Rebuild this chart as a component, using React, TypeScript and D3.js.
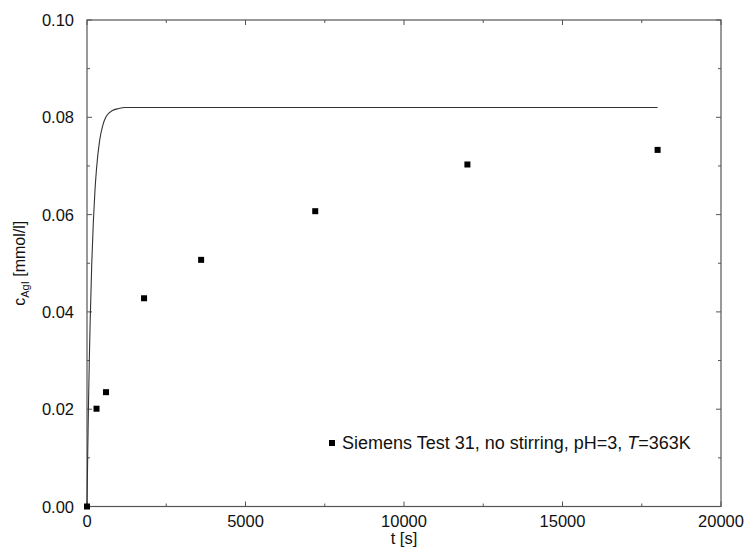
import React from "react";
import * as d3 from "d3";

// measured points (Siemens Test 31)
const tData = [0, 300, 600, 1800, 3600, 7200, 12000, 18000];
const cData = [0, 0.0201, 0.0235, 0.0428, 0.0507, 0.0607, 0.0703, 0.0733];

// model curve
const tCurve = [0, 25, 50, 75, 100, 150, 200, 250, 300, 400, 500, 600, 800, 1000, 1200, 1500, 2000, 18000];
const cCurve = [0, 0.0119, 0.022, 0.0307, 0.0381, 0.0499, 0.0585, 0.0648, 0.0694, 0.0753, 0.0784, 0.0801, 0.0814, 0.0818, 0.082, 0.082, 0.082, 0.082];

const xTicks = [0, 5000, 10000, 15000, 20000];
const xMinor = [2500, 7500, 12500, 17500];
const yTicks = [0, 0.02, 0.04, 0.06, 0.08, 0.1];
const yMinor = [0.01, 0.03, 0.05, 0.07, 0.09];

const W = 749, H = 554;
const left = 87, right = 721, top = 20, bottom = 506.5;
const font = "'Liberation Sans', Arial, Helvetica, sans-serif";
const axisColor = "#555";

export default function App() {
  const x = d3.scaleLinear().domain([0, 20000]).range([left, right]);
  const y = d3.scaleLinear().domain([0, 0.1]).range([bottom, top]);

  const line = d3.line<number>()
    .x((d, i) => x(tCurve[i]))
    .y(d => y(d))
    .curve(d3.curveMonotoneX);

  const sq = 6;

  return (
    <div style={{ position: "absolute", left: 0, top: 0 }}>
      <svg width={W} height={H} style={{ display: "block", background: "#fff" }} fontFamily={font}>
        {/* frame */}
        <rect x={left} y={top} width={right - left} height={bottom - top} fill="none" stroke={axisColor} strokeWidth={1.2} />

        {/* x ticks, bottom and top */}
        {xTicks.map(t => (
          <g key={"xt" + t}>
            <line x1={x(t)} x2={x(t)} y1={bottom} y2={bottom - 5} stroke={axisColor} />
            <line x1={x(t)} x2={x(t)} y1={top} y2={top + 5} stroke={axisColor} />
            <text x={x(t)} y={527} textAnchor="middle" fontSize={16.5} fill="#111">{t}</text>
          </g>
        ))}
        {xMinor.map(t => (
          <g key={"xm" + t}>
            <line x1={x(t)} x2={x(t)} y1={bottom} y2={bottom - 3} stroke={axisColor} />
            <line x1={x(t)} x2={x(t)} y1={top} y2={top + 3} stroke={axisColor} />
          </g>
        ))}

        {/* y ticks, left and right */}
        {yTicks.map(v => (
          <g key={"yt" + v}>
            <line x1={left} x2={left + 5} y1={y(v)} y2={y(v)} stroke={axisColor} />
            <line x1={right} x2={right - 5} y1={y(v)} y2={y(v)} stroke={axisColor} />
            <text x={74} y={y(v) + 6} textAnchor="end" fontSize={16.5} fill="#111">{v.toFixed(2)}</text>
          </g>
        ))}
        {yMinor.map(v => (
          <g key={"ym" + v}>
            <line x1={left} x2={left + 3} y1={y(v)} y2={y(v)} stroke={axisColor} />
            <line x1={right} x2={right - 3} y1={y(v)} y2={y(v)} stroke={axisColor} />
          </g>
        ))}

        {/* model curve */}
        <path d={line(cCurve) || ""} fill="none" stroke="#333" strokeWidth={1.1} />

        {/* measured points */}
        {tData.map((t, i) => (
          <rect key={"p" + i} x={x(t) - sq / 2} y={y(cData[i]) - sq / 2} width={sq} height={sq} fill="#000" />
        ))}

        {/* legend */}
        <rect x={332 - 3} y={443 - 3} width={6} height={6} fill="#000" />
        <text x={342} y={448.5} fontSize={18} fill="#111">
          Siemens Test 31, no stirring, pH=3, <tspan fontStyle="italic">T</tspan>=363K
        </text>

        {/* axis titles */}
        <text x={(left + right) / 2} y={544} textAnchor="middle" fontSize={16.5} fill="#111">t [s]</text>
        <text transform={`translate(25, ${(top + bottom) / 2}) rotate(-90)`} textAnchor="middle" fontSize={16} fill="#111">
          c<tspan fontSize={11} dy={4}>AgI</tspan><tspan dy={-4}> [mmol/l]</tspan>
        </text>
      </svg>
    </div>
  );
}
